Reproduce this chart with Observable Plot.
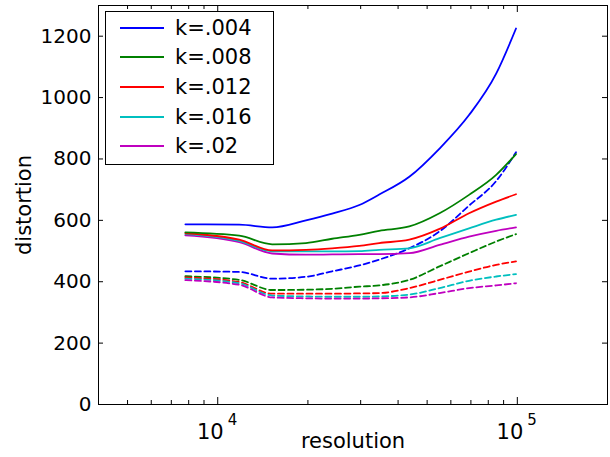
<!DOCTYPE html>
<html>
<head>
<meta charset="utf-8">
<script src="https://cdn.jsdelivr.net/npm/d3@7"></script>
<script src="https://cdn.jsdelivr.net/npm/@observablehq/plot@0.6"></script>
<style>
  body { margin: 0; background: #fff; font-family: "DejaVu Sans", sans-serif; }
  #wrap { position: relative; width: 610px; height: 457px; }
  #legend { position: absolute; left: 105px; top: 11px; width: 167px; height: 152px; border: 1px solid #000; background: #fff; }
  .row { position: absolute; left: 0; height: 0; }
  .row .ln { position: absolute; left: 14px; width: 44px; height: 0; border-top: 2px solid; top: -1px; }
  .row .tx { position: absolute; left: 69px; top: -13px; font-size: 21px; line-height: 26px; white-space: nowrap; color: #000; }
</style>
</head>
<body>
<div id="wrap"><div id="chart"></div><div id="legend"></div></div>
<script>
// ---- data ----
const resolution = [7800, 11800, 15200, 19700, 24100, 29700, 34600, 43600, 55000, 69000, 85000, 99000];
const kLabels = ["k=.004", "k=.008", "k=.012", "k=.016", "k=.02"];
const kColors = ["#0000ff", "#008000", "#ff0000", "#00bfbf", "#bf00bf"];

const solid004 = [587, 586, 577, 600, 622, 650, 684, 742, 834, 943, 1078, 1225];
const solid008 = [561, 550, 522, 526, 540, 553, 566, 580, 623, 683, 748, 816];
const solid012 = [558, 537, 502, 504, 509, 517, 526, 537, 572, 623, 661, 685];
const solid016 = [555, 533, 499, 499, 499, 500, 504, 509, 542, 574, 602, 618];
const solid02  = [551, 529, 492, 488, 489, 490, 490, 493, 520, 547, 566, 577];

const dashed004 = [434, 432, 410, 416, 434, 453, 472, 509, 564, 648, 728, 822];
const dashed008 = [418, 406, 373, 374, 377, 384, 388, 406, 450, 493, 531, 555];
const dashed012 = [414, 399, 361, 361, 361, 362, 363, 379, 406, 433, 455, 466];
const dashed016 = [410, 395, 355, 352, 351, 351, 352, 358, 379, 403, 417, 425];
const dashed02  = [405, 390, 349, 346, 345, 345, 346, 349, 363, 379, 388, 395];

const yTicks = [0, 200, 400, 600, 800, 1000, 1200];
const xMajor = [1e4, 1e5];
const xMinor = [5000, 6000, 7000, 8000, 9000, 20000, 30000, 40000, 50000, 60000, 70000, 80000, 90000];
const xLabelBase = "10";
const xLabelExp = ["4", "5"];
const xTitle = "resolution";
const yTitle = "distortion";

// ---- build table ----
const solidSeries = [solid004, solid008, solid012, solid016, solid02];
const dashedSeries = [dashed004, dashed008, dashed012, dashed016, dashed02];
const rows = [];
kLabels.forEach((k, i) => {
  resolution.forEach((r, j) => {
    rows.push({k, style: "solid", resolution: r, distortion: solidSeries[i][j]});
    rows.push({k, style: "dashed", resolution: r, distortion: dashedSeries[i][j]});
  });
});

const W = 610, H = 457;
const mL = 98, mR = 3, mT = 5, mB = 53;
const plotW = W - mL - mR, plotH = H - mT - mB;
const FONT = "DejaVu Sans, sans-serif";
const majorLen = 7, minorLen = 4, yLen = 5;

const marks = [];
kLabels.forEach((k, i) => {
  marks.push(Plot.line(rows.filter(d => d.k === k && d.style === "dashed"), {
    x: "resolution", y: "distortion", stroke: kColors[i], strokeWidth: 1.8,
    strokeDasharray: "6,3.5", curve: "monotone-x"
  }));
});
kLabels.slice().reverse().forEach((k) => {
  const i = kLabels.indexOf(k);
  marks.push(Plot.line(rows.filter(d => d.k === k && d.style === "solid"), {
    x: "resolution", y: "distortion", stroke: kColors[i], strokeWidth: 1.8, curve: "monotone-x"
  }));
});
marks.push(
  Plot.tickY(yTicks, {y: d => d, stroke: "#000", insetRight: plotW - yLen}),
  Plot.tickY(yTicks, {y: d => d, stroke: "#000", insetLeft: plotW - yLen}),
  Plot.tickX(xMajor, {x: d => d, stroke: "#000", insetTop: plotH - majorLen}),
  Plot.tickX(xMinor, {x: d => d, stroke: "#000", insetTop: plotH - minorLen}),
  Plot.tickX(xMajor, {x: d => d, stroke: "#000", insetBottom: plotH - majorLen}),
  Plot.tickX(xMinor, {x: d => d, stroke: "#000", insetBottom: plotH - minorLen}),
  Plot.frame({stroke: "#000", strokeWidth: 1}),
  Plot.axisY(yTicks, {tickSize: 0, tickPadding: 7, fontSize: 20, fill: "#000", label: null, tickFormat: d => String(d)}),
  Plot.text(xMajor, {x: d => d, text: () => xLabelBase, frameAnchor: "bottom", dy: 34, dx: 6, textAnchor: "end", fontSize: 21, fill: "#000"}),
  Plot.text(xMajor, {x: d => d, text: (d, i) => xLabelExp[i], frameAnchor: "bottom", dy: 20, dx: 10, textAnchor: "start", fontSize: 15, fill: "#000"}),
  Plot.text([xTitle], {frameAnchor: "bottom", dy: 43, fontSize: 21, fill: "#000"}),
  Plot.text([yTitle], {frameAnchor: "left", dx: -74, rotate: -90, textAnchor: "middle", fontSize: 21, fill: "#000"})
);

const chart = Plot.plot({
  width: W, height: H,
  marginLeft: mL, marginRight: mR, marginTop: mT, marginBottom: mB,
  style: {fontFamily: FONT, background: "#fff", color: "#000"},
  x: {type: "log", domain: [4000, 200000], axis: null},
  y: {domain: [0, 1300], axis: null},
  marks
});
document.getElementById("chart").appendChild(chart);

// legend
const legend = document.getElementById("legend");
const rowY = [16, 45, 75, 105, 134];
kLabels.forEach((k, i) => {
  const r = document.createElement("div");
  r.className = "row";
  r.style.top = rowY[i] + "px";
  r.innerHTML = `<div class="ln" style="border-color:${kColors[i]}"></div><div class="tx">${k}</div>`;
  legend.appendChild(r);
});
</script>
</body>
</html>
